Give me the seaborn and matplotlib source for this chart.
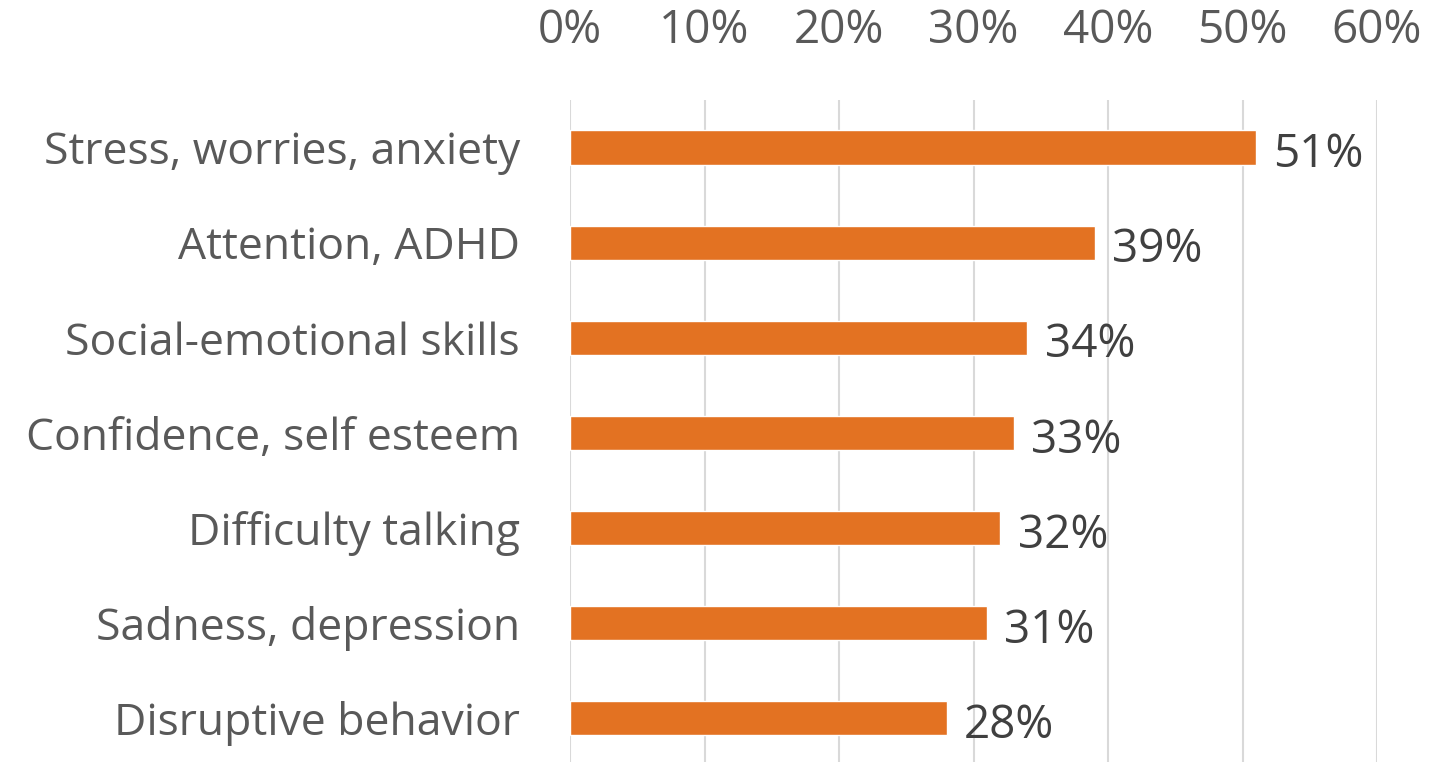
import matplotlib
matplotlib.use("Agg")
import matplotlib.pyplot as plt
import seaborn as sns
import pandas as pd

categories = ["Stress, worries, anxiety", "Attention, ADHD", "Social-emotional skills",
              "Confidence, self esteem", "Difficulty talking", "Sadness, depression",
              "Disruptive behavior"]
values = [51, 39, 34, 33, 32, 31, 28]
tick_values = [0, 10, 20, 30, 40, 50, 60]
tick_labels = ["0%", "10%", "20%", "30%", "40%", "50%", "60%"]

sns.set_theme(style="white")
plt.rcParams['font.family'] = ['Open Sans', 'DejaVu Sans']

df = pd.DataFrame({"cat": categories, "val": values})

fig = plt.figure(figsize=(14.5, 7.62), dpi=100)
ax = fig.add_axes([570/1450, -0.005, (1377-570)/1450, (762-100)/762 + 0.005])

sns.barplot(data=df, x="val", y="cat", color="#E37222", width=0.36, ax=ax, saturation=1)

ax.set_xlim(0, 60)
ax.set_ylim(6.5, -0.5)
ax.set_xticks(tick_values)
ax.set_xticklabels(tick_labels)
ax.xaxis.tick_top()
ax.tick_params(axis='x', length=0, pad=33, labelsize=33, labelcolor="#595959")
ax.tick_params(axis='y', length=0, pad=36, labelsize=32, labelcolor="#595959")
ax.set_xlabel("")
ax.set_ylabel("")
ax.grid(axis='x', color="#D9D9D9", linewidth=1.5)
ax.set_axisbelow(True)
for s in ax.spines.values():
    s.set_visible(False)

for i, v in enumerate(values):
    ax.text(v + 1.3, i + 0.08, f"{v}%", va="center", ha="left", fontsize=33, color="#404040")

fig.savefig("out.png", dpi=100)
